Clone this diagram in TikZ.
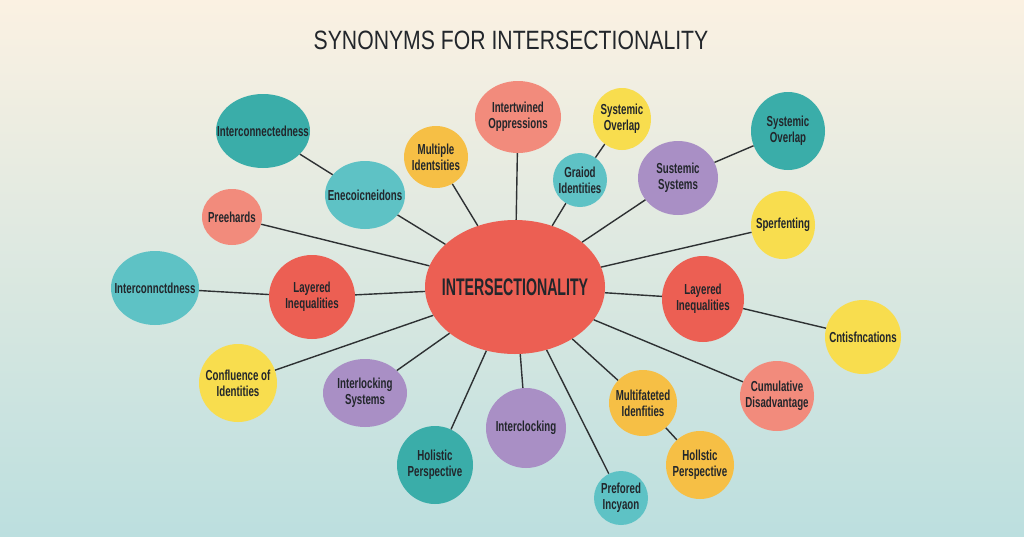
\documentclass[tikz,border=0pt]{standalone}
\usepackage{fontspec}
\setmainfont{Liberation Sans}
\newfontfamily\titlefont{Liberation Sans}[FakeStretch=0.8]
\newfontfamily\hubfont{Liberation Sans}[FakeStretch=0.59]
\newfontfamily\bubblefont{Liberation Sans}[FakeStretch=0.67]
\usepackage{xcolor}
\usepackage{tikz}
\usetikzlibrary{shapes.geometric}

\definecolor{bgtop}{HTML}{FBF1E2}
\definecolor{bgbottom}{HTML}{BCDFDF}
\definecolor{inktext}{HTML}{22262B}
\definecolor{linkgray}{HTML}{2E3133}
\definecolor{tealdark}{HTML}{3AADA9}
\definecolor{teallight}{HTML}{5EC2C5}
\definecolor{salmon}{HTML}{F28B7C}
\definecolor{coral}{HTML}{EC5F53}
\definecolor{sun}{HTML}{F8DD4E}
\definecolor{amber}{HTML}{F6BF45}
\definecolor{lilac}{HTML}{A98FC5}

\begin{document}
\begin{tikzpicture}[x=1pt,y=-1pt,
		bubble/.style={ellipse,inner sep=0pt},
		caption/.style={align=center,text=inktext,inner sep=0pt,
			font=\bubblefont\bfseries\fontsize{14.5}{16}\selectfont},
		dims/.style 2 args={minimum width=#1pt,minimum height=#2pt},
		link/.style={draw=linkgray,line width=1.4pt}]
		\shade [top color=bgtop,middle color=white,bottom color=bgbottom]
			  (0,0) rectangle (1024,536);
		\useasboundingbox (0,0) rectangle (1024,536);
		\node [text=inktext,font=\titlefont\fontsize{26.5}{30}\selectfont] (title) at (511,40) {SYNONYMS FOR INTERSECTIONALITY};
		% hub
		\node [bubble,fill=coral,dims={180}{134},label={[caption,
			font=\hubfont\bfseries\fontsize{24}{28}\selectfont]center:INTERSECTIONALITY}] (hub) at (515,287) {};
		% upper left
		\node [bubble,fill=tealdark,dims={94}{74},label={[caption]center:Interconnectedness}] (connectedness) at (263,131) {};
		\node [bubble,fill=teallight,dims={80}{68},label={[caption]center:Enecoicneidons}] (enecoic) at (365,195) {};
		\node [bubble,fill=salmon,dims={60}{56},label={[caption]center:Preehards}] (preehards) at (232,217) {};
		\node [bubble,fill=amber,dims={64}{62},label={[caption]center:Multiple\\Identsities}] (multiple) at (436,157) {};
		\node [bubble,fill=salmon,dims={86}{72},label={[caption]center:Intertwined\\Oppressions}] (intertwined) at (518,117) {};
		% upper right
		\node [bubble,fill=sun,dims={58}{62},label={[caption]center:Systemic\\Overlap}] (overlapsmall) at (622,119) {};
		\node [bubble,fill=teallight,dims={54}{54},label={[caption]center:Graiod\\Identities}] (graiod) at (580,180) {};
		\node [bubble,fill=lilac,dims={80}{74},label={[caption]center:Sustemic\\Systems}] (sustemic) at (678,178) {};
		\node [bubble,fill=tealdark,dims={74}{78},label={[caption]center:Systemic\\Overlap}] (overlapteal) at (788,131) {};
		\node [bubble,fill=sun,dims={64}{68},label={[caption]center:Sperfenting}] (sperfenting) at (783,225) {};
		% right
		\node [bubble,fill=coral,dims={82}{86},label={[caption]center:Layered\\Inequalities}] (layeredright) at (703,299) {};
		\node [bubble,fill=sun,dims={76}{74},label={[caption]center:Cntisfncations}] (cntis) at (863,337) {};
		\node [bubble,fill=salmon,dims={74}{70},label={[caption]center:Cumulative\\Disadvantage}] (cumulative) at (777,396) {};
		% lower
		\node [bubble,fill=amber,dims={68}{66},label={[caption]center:Multifateted\\Idenfities}] (multifateted) at (643,403) {};
		\node [bubble,fill=amber,dims={68}{68},label={[caption]center:Hollstic\\Perspective}] (hollstic) at (700,465) {};
		\node [bubble,fill=teallight,dims={54}{54},label={[caption]center:Prefored\\Incyaon}] (prefored) at (621,498) {};
		\node [bubble,fill=lilac,dims={80}{80},label={[caption]center:Interclocking}] (interclocking) at (526,428) {};
		\node [bubble,fill=tealdark,dims={76}{78},label={[caption]center:Holistic\\Perspective}] (holisticteal) at (435,465) {};
		\node [bubble,fill=lilac,dims={84}{68},label={[caption]center:Interlocking\\Systems}] (interlocking) at (365,393) {};
		% left
		\node [bubble,fill=sun,dims={78}{78},label={[caption]center:Confluence of\\Identities}] (confluence) at (238,383) {};
		\node [bubble,fill=teallight,dims={88}{74},label={[caption]center:Interconnctdness}] (connctdness) at (155,288) {};
		\node [bubble,fill=coral,dims={86}{84},label={[caption]center:Layered\\Inequalities}] (layeredleft) at (312,297) {};
		% links
		\draw [link] (connectedness) -- (enecoic)
			  (enecoic) -- (hub)
			  (preehards) -- (hub)
			  (multiple) -- (hub)
			  (intertwined) -- (hub)
			  (overlapsmall) -- (graiod)
			  (graiod) -- (hub)
			  (overlapteal) -- (sustemic)
			  (sustemic) -- (hub)
			  (sperfenting) -- (hub)
			  (layeredright) -- (hub)
			  (layeredright) -- (cntis)
			  (cumulative) -- (hub)
			  (multifateted) -- (hub)
			  (multifateted) -- (hollstic)
			  (prefored) -- (hub)
			  (interclocking) -- (hub)
			  (holisticteal) -- (hub)
			  (interlocking) -- (hub)
			  (confluence) -- (hub)
			  (layeredleft) -- (hub)
			  (connctdness) -- (layeredleft);
	\end{tikzpicture}
\end{document}
